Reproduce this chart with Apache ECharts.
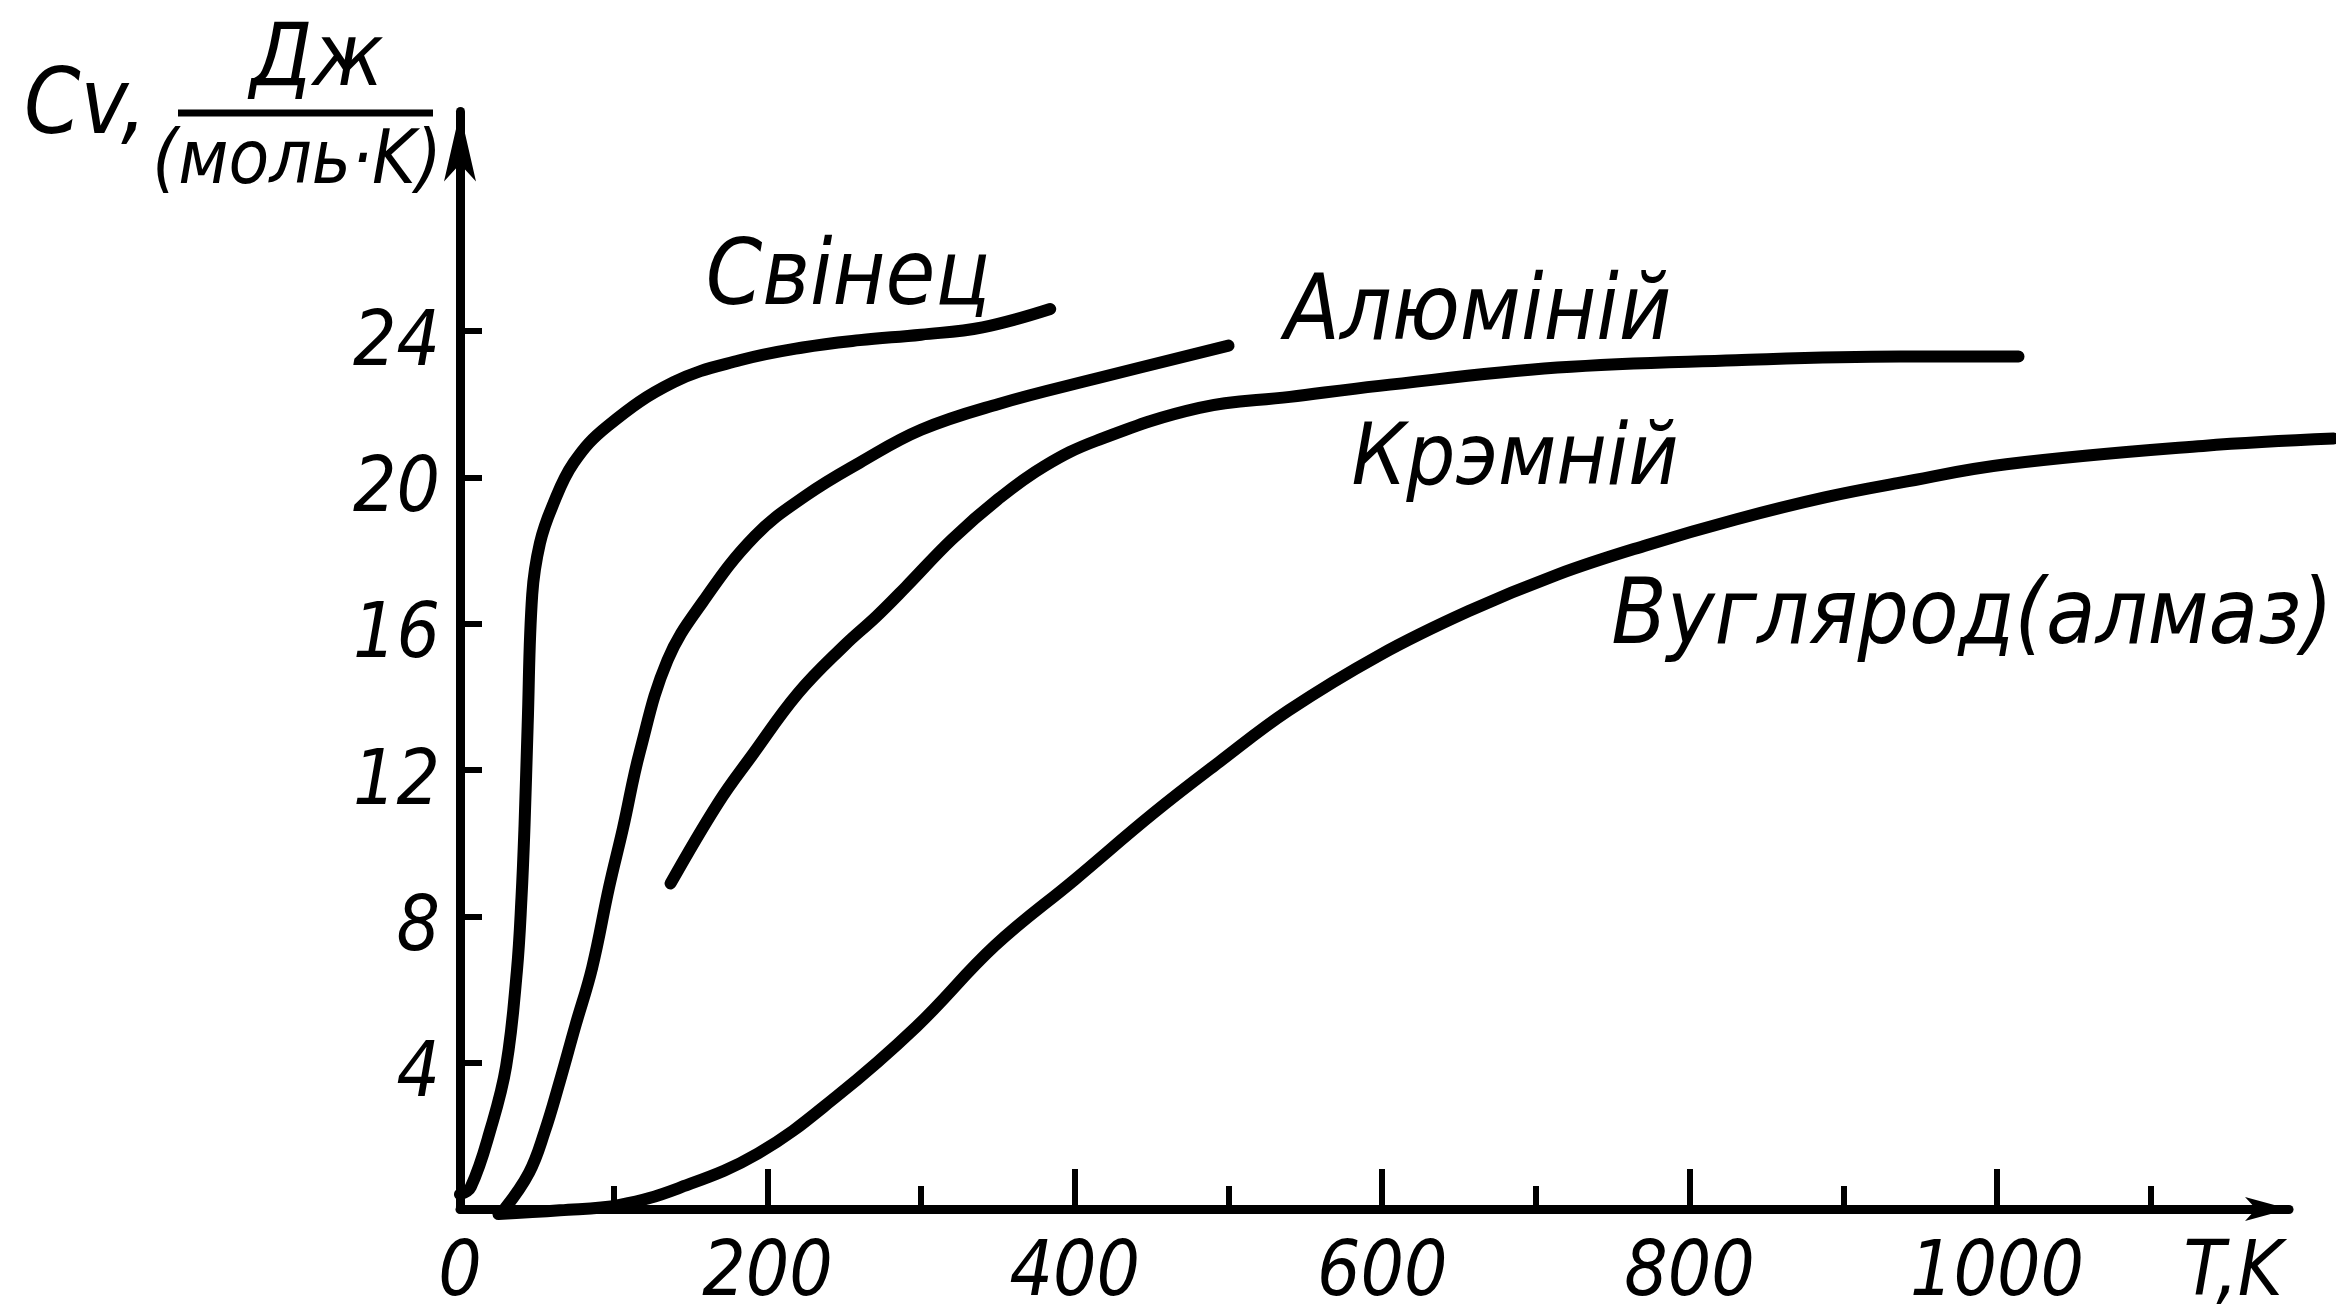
<!DOCTYPE html>
<html>
<head>
<meta charset="utf-8">
<title>Cv(T)</title>
<script src="https://cdn.jsdelivr.net/npm/echarts@6/dist/echarts.min.js"></script>
<style>
  html, body { margin: 0; padding: 0; background: #fff; }
  #chart { width: 2336px; height: 1313px; }
</style>
</head>
<body>
<div id="chart"></div>
<script>
// Molar heat capacity Cv (J/(mol·K)) versus temperature T (K)
const leadT = [0, 7, 20, 30, 37, 40, 42, 44, 47, 52, 60, 74, 96, 139, 182, 223, 260, 300, 340, 384];
const leadC = [0.4, 0.6, 2.2, 3.9, 6.5, 8.5, 10.5, 13.2, 16.8, 18.2, 19.2, 20.4, 21.4, 22.6, 23.2, 23.55, 23.75, 23.9, 24.1, 24.6];

const alT = [29, 45, 55, 65, 75, 86, 97, 106, 117, 135, 158, 192, 225, 260, 300, 350, 414, 500];
const alC = [0, 1.0, 2.1, 3.5, 5.0, 6.6, 8.8, 10.4, 12.5, 15.0, 16.6, 18.4, 19.5, 20.4, 21.3, 22.0, 22.7, 23.6];

const siT = [137, 168, 190, 220, 250, 271, 290, 320, 350, 380, 414, 481, 540, 598, 714, 830, 937, 1014];
const siC = [8.9, 11.1, 12.4, 14.1, 15.4, 16.2, 17.0, 18.3, 19.4, 20.3, 21.0, 21.9, 22.2, 22.5, 23.0, 23.2, 23.3, 23.3];

const cT = [25, 65, 104, 142, 194, 245, 297, 348, 400, 451, 494, 539, 598, 656, 714, 772, 830, 888, 937, 1006, 1134, 1219];
const cC = [0, 0.1, 0.25, 0.7, 1.65, 3.2, 5.1, 7.3, 9.1, 10.9, 12.3, 13.7, 15.2, 16.4, 17.4, 18.2, 18.9, 19.5, 19.9, 20.4, 20.9, 21.1];

const seriesNames = ['Свінец', 'Алюміній', 'Крэмній', 'Вуглярод(алмаз)'];

const xLabelValues = [0, 200, 400, 600, 800, 1000];
const xMajorTicks = [200, 400, 600, 800, 1000];
const xMinorTicks = [100, 300, 500, 700, 900, 1100];
const yTickValues = [4, 8, 12, 16, 20, 24];

// Plot geometry: both grids share the same pixels per kelvin;
// the second one only reaches further right so the diamond curve can run to the edge.
const PLOT_LEFT = 460;
const PX_PER_K = 1.537;
const X_AXIS_MAX = 1190;
const X_WIDE_MAX = 1219;
const W = 2336;

const FONT = "'DejaVu Sans Condensed', 'DejaVu Sans', sans-serif";
const INK = '#000';

const pairs = (xs, ys) => xs.map((x, i) => [x, ys[i]]);

const chart = echarts.init(document.getElementById('chart'), null, { renderer: 'canvas' });

const curve = (name, xs, ys, xIdx, yIdx) => ({
  name,
  type: 'line',
  xAxisIndex: xIdx,
  yAxisIndex: yIdx,
  data: pairs(xs, ys),
  smooth: 0.4,
  showSymbol: false,
  clip: false,
  lineStyle: { color: INK, width: 12, cap: 'round', join: 'round' },
  emphasis: { disabled: true },
  silent: true
});

const text = (str, x, y, size, align) => ({
  type: 'text',
  x, y,
  style: {
    text: str,
    font: 'italic ' + size + 'px ' + FONT,
    fill: INK,
    align: align || 'center',
    verticalAlign: 'middle'
  }
});

const gridBox = (maxT) => ({
  left: PLOT_LEFT,
  right: W - PLOT_LEFT - maxT * PX_PER_K,
  top: 111.5,
  bottom: 99,
  containLabel: false
});

const labelFont = { color: INK, fontFamily: FONT, fontStyle: 'italic', fontSize: 76 };

chart.setOption({
  animation: false,
  backgroundColor: '#fff',
  grid: [gridBox(X_AXIS_MAX), gridBox(X_WIDE_MAX)],
  xAxis: [
    {
      type: 'value',
      gridIndex: 0,
      position: 'bottom',
      min: 0, max: X_AXIS_MAX, interval: 100,
      splitLine: { show: false },
      axisLine: {
        lineStyle: { color: INK, width: 9 },
        symbol: ['none', 'arrow'],
        symbolSize: [18, 44]
      },
      axisTick: {
        inside: true, length: 40, customValues: xMajorTicks,
        lineStyle: { color: INK, width: 6 }
      },
      axisLabel: Object.assign({
        customValues: xLabelValues,
        margin: 28,
        formatter: v => String(v)
      }, labelFont),
      name: 'T,K',
      nameLocation: 'end',
      nameGap: -56,
      nameTextStyle: Object.assign({
        align: 'center', verticalAlign: 'top', padding: [28, 0, 0, 0]
      }, labelFont)
    },
    {
      type: 'value',
      gridIndex: 0,
      position: 'bottom',
      min: 0, max: X_AXIS_MAX, interval: 100,
      splitLine: { show: false },
      axisLine: { show: false },
      axisLabel: { show: false },
      axisTick: {
        inside: true, length: 23, customValues: xMinorTicks,
        lineStyle: { color: INK, width: 6 }
      }
    },
    {
      type: 'value',
      gridIndex: 1,
      min: 0, max: X_WIDE_MAX,
      show: false
    }
  ],
  yAxis: [
    {
      type: 'value',
      gridIndex: 0,
      min: 0, max: 30, interval: 4,
      splitLine: { show: false },
      axisLine: {
        lineStyle: { color: INK, width: 9 },
        symbol: ['none', 'arrow'],
        symbolSize: [24, 70]
      },
      axisTick: {
        inside: true, length: 22, customValues: yTickValues,
        lineStyle: { color: INK, width: 6 }
      },
      axisLabel: Object.assign({
        customValues: yTickValues,
        margin: 20,
        verticalAlign: 'top',
        lineHeight: 28
      }, labelFont)
    },
    {
      type: 'value',
      gridIndex: 1,
      min: 0, max: 30,
      show: false
    }
  ],
  series: [
    curve(seriesNames[0], leadT, leadC, 0, 0),
    curve(seriesNames[1], alT, alC, 0, 0),
    curve(seriesNames[2], siT, siC, 0, 0),
    curve(seriesNames[3], cT, cC, 2, 1)
  ],
  graphic: [
    // axis title: Cv, Дж / (моль·K)
    text('Cv,', 24, 110, 90, 'left'),
    text('Дж', 317, 62, 88),
    { type: 'line', shape: { x1: 178, y1: 113, x2: 433, y2: 113 }, style: { stroke: INK, lineWidth: 7 } },
    text('(моль·K)', 297, 164, 74),
    // curve names
    text(seriesNames[0], 848, 281, 90),
    text(seriesNames[1], 1478, 316, 90),
    text(seriesNames[2], 1515, 462, 86),
    text(seriesNames[3], 1972, 620, 90)
  ]
});
</script>
</body>
</html>
